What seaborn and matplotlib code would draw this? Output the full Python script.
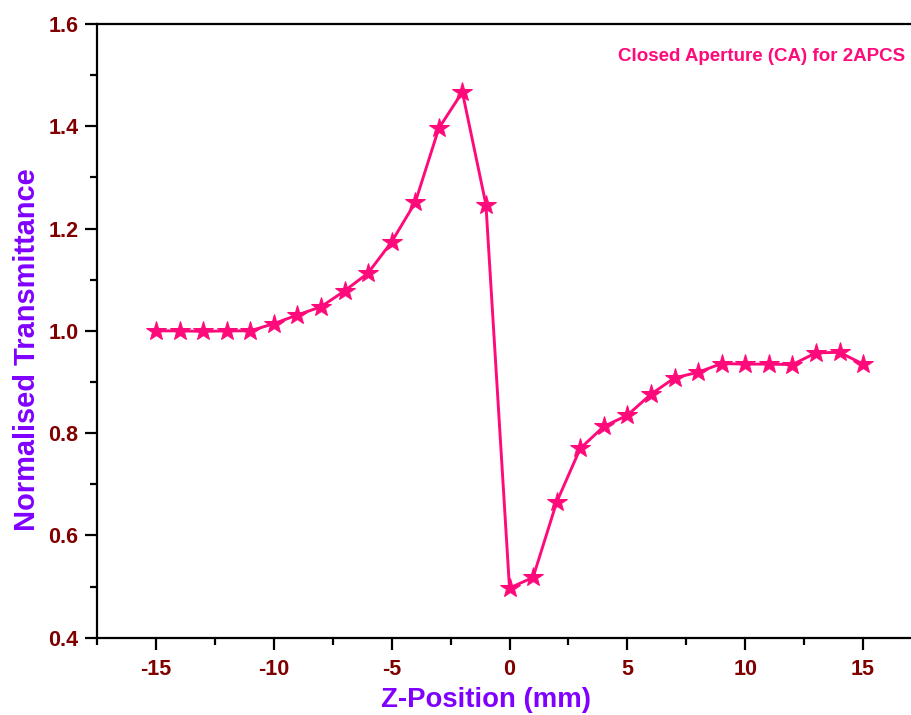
import matplotlib
matplotlib.use("Agg")
import matplotlib.pyplot as plt
from matplotlib.ticker import MultipleLocator
import seaborn as sns
import pandas as pd

# Z-scan, closed aperture
z_position = [-15, -14, -13, -12, -11, -10, -9, -8, -7, -6, -5, -4, -3, -2, -1,
              0, 1, 2, 3, 4, 5, 6, 7, 8, 9, 10, 11, 12, 13, 14, 15]
transmittance = [1.000, 1.000, 0.999, 1.000, 1.000, 1.014, 1.031, 1.047, 1.078,
                 1.113, 1.174, 1.251, 1.396, 1.467, 1.247,
                 0.497, 0.518, 0.665, 0.770, 0.813, 0.835, 0.876, 0.908, 0.919,
                 0.936, 0.935, 0.935, 0.934, 0.957, 0.958, 0.935]

x_ticks = [-15, -10, -5, 0, 5, 10, 15]
y_ticks = [0.4, 0.6, 0.8, 1.0, 1.2, 1.4, 1.6]

df = pd.DataFrame({"z": z_position, "T": transmittance})

sns.set_theme(style="ticks")
plt.rcParams["font.family"] = ["Liberation Sans", "DejaVu Sans"]
plt.rcParams["font.weight"] = "bold"

line_color = "#FF0A7A"
tick_color = "#800000"
label_color = "#8000FF"

fig = plt.figure(figsize=(9.11, 7.15), dpi=100)
ax = fig.add_axes([97 / 911, 77.3 / 715, 825 / 911, 613.7 / 715])

sns.lineplot(data=df, x="z", y="T", ax=ax, color=line_color, linewidth=2.1,
             marker="*", markersize=15, markeredgecolor=line_color,
             markerfacecolor=line_color)

ax.set_xlim(-17.5, 17.5)
ax.set_ylim(0.4, 1.6)
ax.set_xticks(x_ticks)
ax.set_yticks(y_ticks)
ax.set_xticklabels([f"{t}" for t in x_ticks])
ax.set_yticklabels([f"{t:.1f}" for t in y_ticks])
ax.xaxis.set_minor_locator(MultipleLocator(2.5))
ax.yaxis.set_minor_locator(MultipleLocator(0.1))

for spine in ax.spines.values():
    spine.set_linewidth(1.6)
    spine.set_color("black")

ax.tick_params(axis="both", which="major", direction="out", length=8.5,
               width=1.6, labelsize=15.5, labelcolor=tick_color, color="black")
ax.tick_params(axis="both", which="minor", direction="out", length=5,
               width=1.6, color="black")
ax.tick_params(axis="x", which="major", pad=7)
ax.tick_params(axis="y", which="major", pad=5)
for lbl in ax.get_xticklabels() + ax.get_yticklabels():
    lbl.set_fontweight("bold")

ax.set_xlabel("Z-Position (mm)", fontsize=19.8, fontweight="bold",
              color=label_color)
ax.set_ylabel("Normalised Transmittance", fontsize=20.9, fontweight="bold",
              color=label_color)
ax.xaxis.label.set_va("baseline")
ax.yaxis.label.set_va("baseline")
ax.xaxis.set_label_coords(0.472, -0.113)
ax.yaxis.set_label_coords(-0.0752, 0.4688)

ax.text(0.9794, 0.9397, "Closed Aperture (CA) for 2APCS", transform=ax.transAxes,
        ha="right", va="baseline", fontsize=13.5, fontweight="bold",
        color=line_color)

fig.savefig("out.png", dpi=100)
